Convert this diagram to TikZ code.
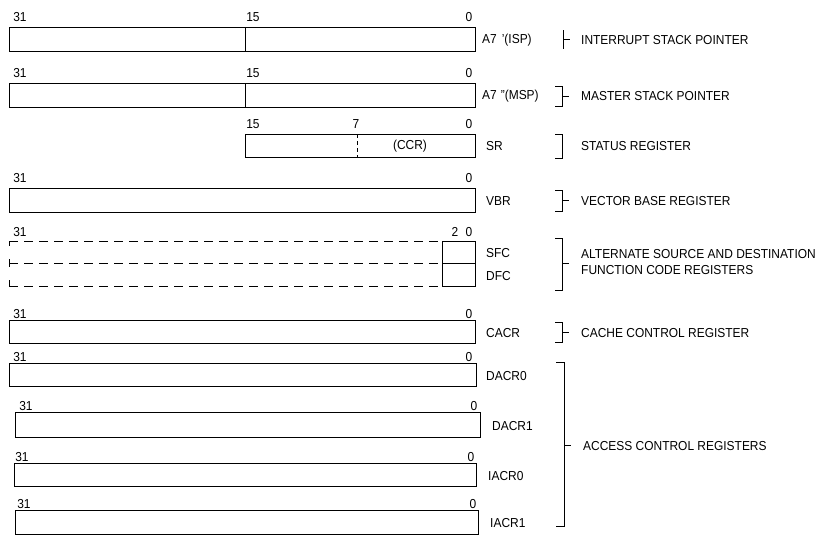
\documentclass[tikz,border=0pt]{standalone}
\usepackage{fontspec}
\setmainfont[FakeStretch=0.92]{Liberation Sans}
\begin{document}
\begin{tikzpicture}[x=1pt,y=-1pt,
  every node/.style={font=\fontsize{13}{15}\selectfont, inner sep=0pt},
  reg/.style={draw, line width=0.9pt, anchor=north west, inner sep=0pt, minimum height=24pt},
  num/.style={anchor=base},
  lab/.style={anchor=west},
  brk/.style={line width=0.9pt},
  dline/.style={line width=0.9pt, dash pattern=on 9pt off 6pt}]
\useasboundingbox (0,0) rectangle (839,536);

% ---------- Row 1: ISP
\node[reg, minimum width=466pt] (isp) at (9,27) {};
\draw[line width=0.9pt] (245,27) -- (245,51);
\node[num] (isp31) at (20,21) {31};
\node[num] (isp15) at (253,21) {15};
\node[num] (isp0) at (469,21) {0};
\node[lab] (ispn) at (482,40) {A7\hspace{5pt}'(ISP)};
\draw[brk] (563,30) -- (563,49);
\draw[brk] (563,39) -- (570,39);
\node[lab] (ispt) at (581,40) {INTERRUPT STACK POINTER};

% ---------- Row 2: MSP
\node[reg, minimum width=466pt] (msp) at (9,83) {};
\draw[line width=0.9pt] (245,83) -- (245,107);
\node[num] (msp31) at (20,77) {31};
\node[num] (msp15) at (253,77) {15};
\node[num] (msp0) at (469,77) {0};
\node[lab] (mspn) at (482,96) {A7\hspace{4pt}"(MSP)};
\draw[brk] (555,86) -- (562,86) -- (562,106) -- (555,106);
\draw[brk] (562,96) -- (569,96);
\node[lab] (mspt) at (581,96) {MASTER STACK POINTER};

% ---------- Row 3: SR
\node[reg, minimum width=230pt, minimum height=23pt] (sr) at (245,134) {};
\draw[line width=0.9pt, dash pattern=on 4pt off 3pt] (357,134) -- (357,157);
\node[num] (sr15) at (253,128) {15};
\node[num] (sr7) at (356,128) {7};
\node[num] (sr0) at (469,128) {0};
\node (ccr) at (410,146) {(CCR)};
\node[lab] (srn) at (486,146) {SR};
\draw[brk] (555,134) -- (562,134) -- (562,158) -- (555,158);
\node[lab] (srt) at (581,146) {STATUS REGISTER};

% ---------- Row 4: VBR
\node[reg, minimum width=466pt] (vbr) at (9,188) {};
\node[num] (vbr31) at (20,182) {31};
\node[num] (vbr0) at (469,182) {0};
\node[lab] (vbrn) at (486,201) {VBR};
\draw[brk] (555,190) -- (562,190) -- (562,211) -- (555,211);
\draw[brk] (562,200) -- (569,200);
\node[lab] (vbrt) at (581,201) {VECTOR BASE REGISTER};

% ---------- Row 5: SFC / DFC
\node[num] (fc31) at (20,236) {31};
\node[num] (fc2) at (455,236) {2};
\node[num] (fc0) at (469,236) {0};
\draw[dline] (9,241) -- (442,241);
\draw[dline] (9,263) -- (442,263);
\draw[dline] (9,286) -- (442,286);
\draw[line width=0.9pt] (9,241) -- (9,246);
\draw[line width=0.9pt] (9,259) -- (9,267);
\draw[line width=0.9pt] (9,280) -- (9,286);
\node[reg, minimum width=33pt, minimum height=22pt] (sfc) at (442,241) {};
\node[reg, minimum width=33pt, minimum height=23pt] (dfc) at (442,263) {};
\node[lab] (sfcn) at (486,253) {SFC};
\node[lab] (dfcn) at (486,276) {DFC};
\draw[brk] (555,238) -- (562,238) -- (562,290) -- (555,290);
\draw[brk] (562,263) -- (569,263);
\node[lab] (fct1) at (581,254) {ALTERNATE SOURCE AND DESTINATION};
\node[lab] (fct2) at (581,270) {FUNCTION CODE REGISTERS};

% ---------- Row 6: CACR
\node[reg, minimum width=466pt, minimum height=23pt] (cacr) at (9,320) {};
\node[num] (cacr31) at (20,318) {31};
\node[num] (cacr0) at (469,318) {0};
\node[lab] (cacrn) at (486,333) {CACR};
\draw[brk] (555,322) -- (562,322) -- (562,342) -- (555,342);
\draw[brk] (562,332) -- (569,332);
\node[lab] (cacrt) at (581,333) {CACHE CONTROL REGISTER};

% ---------- Row 7: DACR0
\node[reg, minimum width=467pt, minimum height=23pt] (dacr0) at (9,363) {};
\node[num] (dacr031) at (20,361) {31};
\node[num] (dacr00) at (469,361) {0};
\node[lab] (dacr0n) at (486,376) {DACR0};

% ---------- Row 8: DACR1
\node[reg, minimum width=465pt, minimum height=25pt] (dacr1) at (15,412) {};
\node[num] (dacr131) at (26,410) {31};
\node[num] (dacr10) at (474,410) {0};
\node[lab] (dacr1n) at (492,426) {DACR1};

% ---------- Row 9: IACR0
\node[reg, minimum width=462pt, minimum height=23pt] (iacr0) at (14,463) {};
\node[num] (iacr031) at (22,461) {31};
\node[num] (iacr00) at (471,461) {0};
\node[lab] (iacr0n) at (488,476) {IACR0};

% ---------- Row 10: IACR1
\node[reg, minimum width=463pt, minimum height=24pt] (iacr1) at (15,510) {};
\node[num] (iacr131) at (24,508) {31};
\node[num] (iacr10) at (473,508) {0};
\node[lab] (iacr1n) at (490,523) {IACR1};

% ---------- access control bracket
\draw[brk] (556,362) -- (564,362) -- (564,526) -- (556,526);
\draw[brk] (564,445) -- (571,445);
\node[lab] (acct) at (583,446) {ACCESS CONTROL REGISTERS};
\end{tikzpicture}
\end{document}
